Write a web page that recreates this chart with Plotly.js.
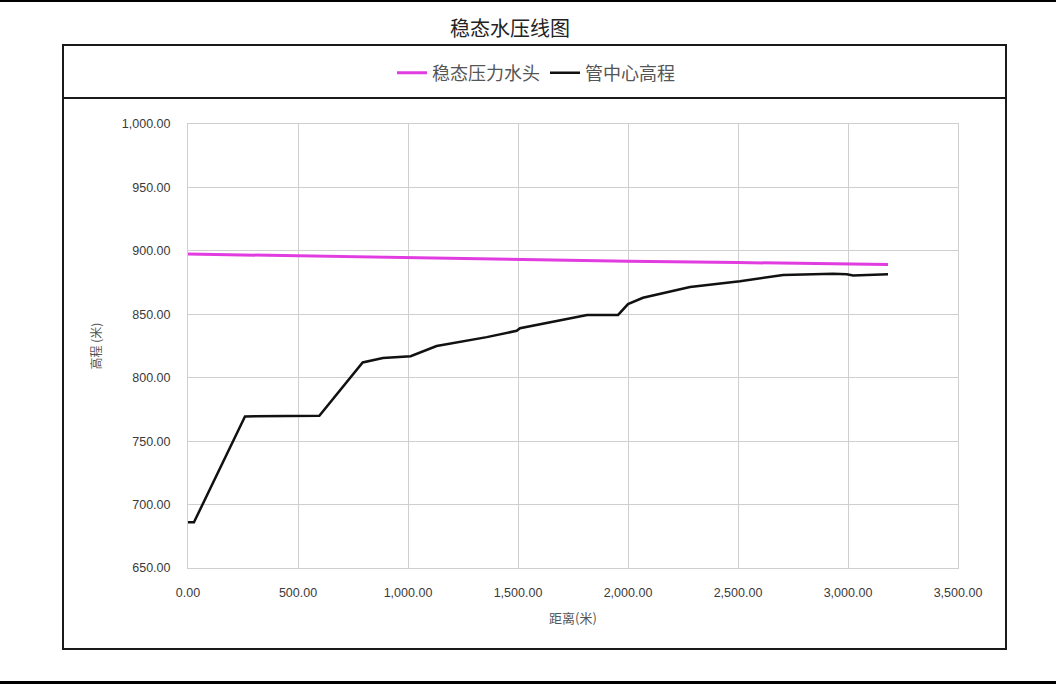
<!DOCTYPE html>
<html>
<head>
<meta charset="utf-8">
<script src="https://cdn.plot.ly/plotly-3.0.1.min.js"></script>
<style>
html,body{margin:0;padding:0;background:#fff;}
#chart{width:1056px;height:684px;}
</style>
</head>
<body>
<div id="chart"></div>
<script>
// Data
var pipeDist = [0, 27, 259, 597, 794, 886, 1012, 1130, 1358, 1494, 1509, 1814, 1955, 2000, 2068, 2282, 2509, 2705, 2932, 2995, 3023, 3182];
var pipeElev = [686, 686, 769.5, 770, 812, 815.5, 817, 825, 832, 837, 839, 849.5, 849.5, 858, 863, 871.5, 876, 881, 882, 881.5, 880.5, 881.5];
var headDist = [0, 500, 1000, 1500, 2000, 2500, 3000, 3182];
var headVal = [897.5, 896, 894.2, 893, 891.8, 890.8, 889.5, 889.2];
var xTicks = [0, 500, 1000, 1500, 2000, 2500, 3000, 3500];
var yTicks = [650, 700, 750, 800, 850, 900, 950, 1000];
var seriesNames = ['稳态压力水头', '管中心高程'];
var chartTitle = '稳态水压线图';
var xTitle = '距离(米)';
var yTitle = '高程 (米)';

var W = 1056, H = 684;
var L = 188, R = 98, T = 124, B = 116;
var pw = W - L - R, ph = H - T - B;
function px(x){ return (x - L) / pw; }
function py(y){ return (H - B - y) / ph; }

var font = 'Liberation Sans, Arial, "Noto Sans CJK SC", sans-serif';
var cjk = '"Noto Sans CJK SC", "Liberation Sans", sans-serif';

var traces = [
  {x: headDist, y: headVal, name: seriesNames[0], mode: 'lines', type: 'scatter',
   line: {color: '#e03ce0', width: 3}},
  {x: pipeDist, y: pipeElev, name: seriesNames[1], mode: 'lines', type: 'scatter',
   line: {color: '#111111', width: 2.5}}
];

var layout = {
  width: W, height: H,
  margin: {l: L, r: R, t: T, b: B, pad: 0},
  paper_bgcolor: '#ffffff',
  plot_bgcolor: '#ffffff',
  showlegend: true,
  title: {text: chartTitle, font: {family: cjk, size: 20, color: '#222'},
          xref: 'paper', x: px(510), xanchor: 'center', yref: 'container', y: 1 - 29/H, yanchor: 'middle'},
  legend: {orientation: 'h', x: px(536), xanchor: 'center', y: py(73), yanchor: 'middle',
           font: {family: cjk, size: 18, color: '#555'}, bgcolor: 'rgba(0,0,0,0)', itemwidth: 30},
  xaxis: {range: [0, 3500], tickvals: xTicks, tickformat: ',.2f', showgrid: true,
          gridcolor: '#cfcfcf', gridwidth: 1, showline: true, linecolor: '#cfcfcf', mirror: true,
          zeroline: false, ticks: 'outside', ticklen: 13, tickcolor: 'rgba(0,0,0,0)',
          tickfont: {family: font, size: 12.5, color: '#3a3a3a'},
          title: {text: xTitle, font: {family: cjk, size: 13, color: '#555'}, standoff: 14}},
  yaxis: {range: [650, 1000], tickvals: yTicks, tickformat: ',.2f', showgrid: true,
          gridcolor: '#cfcfcf', gridwidth: 1, showline: true, linecolor: '#cfcfcf', mirror: true,
          zeroline: false, ticks: 'outside', ticklen: 14, tickcolor: 'rgba(0,0,0,0)',
          tickfont: {family: font, size: 12.5, color: '#3a3a3a'},
          title: {text: yTitle, font: {family: cjk, size: 12, color: '#555'}, standoff: 17}},
  shapes: [
    {type: 'rect', xref: 'paper', yref: 'paper', x0: px(63), x1: px(1006), y0: py(649), y1: py(45),
     line: {color: '#1a1a1a', width: 2}, fillcolor: 'rgba(0,0,0,0)', layer: 'below'},
    {type: 'line', xref: 'paper', yref: 'paper', x0: px(63), x1: px(1006), y0: py(98), y1: py(98),
     line: {color: '#1a1a1a', width: 2}},
    {type: 'line', xref: 'paper', yref: 'paper', x0: px(0), x1: px(1056), y0: py(1), y1: py(1),
     line: {color: '#000', width: 2}},
    {type: 'line', xref: 'paper', yref: 'paper', x0: px(0), x1: px(1056), y0: py(682.5), y1: py(682.5),
     line: {color: '#000', width: 3}}
  ]
};

Plotly.newPlot('chart', traces, layout, {displayModeBar: false, staticPlot: true});
</script>
</body>
</html>
